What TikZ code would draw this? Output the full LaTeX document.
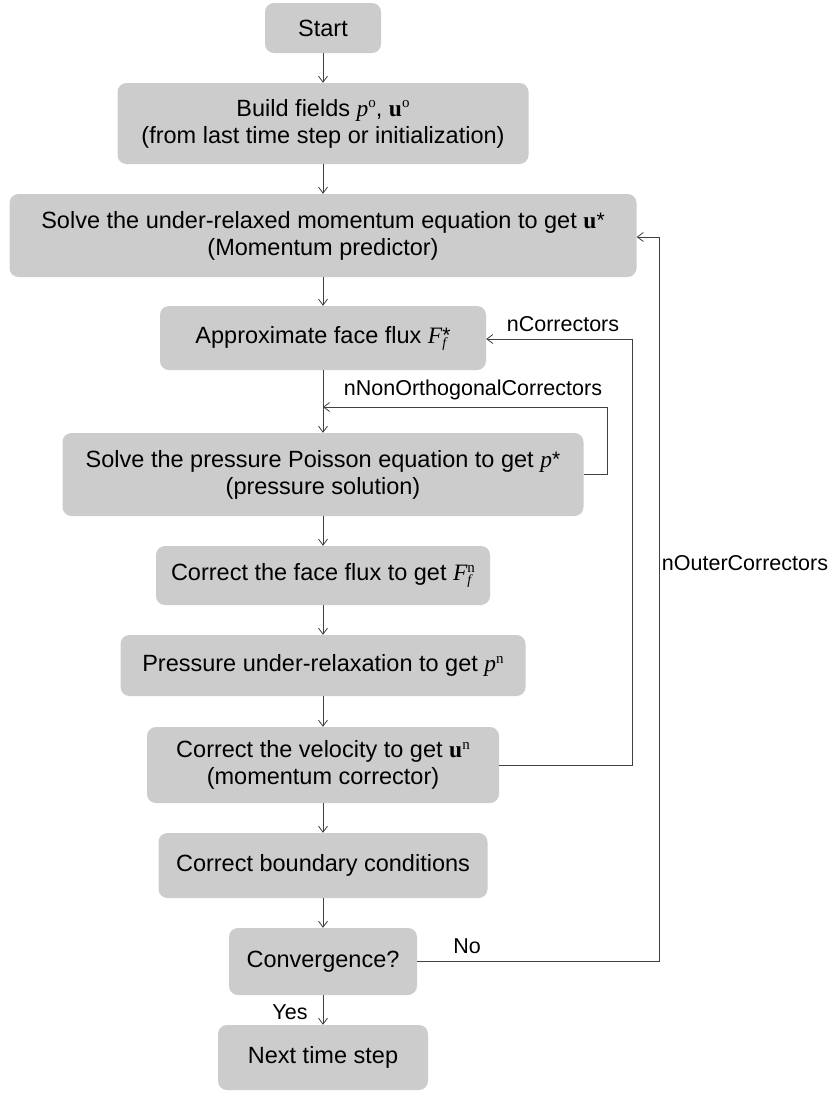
\documentclass[tikz,border=0pt]{standalone}
\usepackage{fontspec}
\setmainfont{Liberation Sans}
\newfontfamily\tms{Liberation Serif}
\usetikzlibrary{arrows.meta}
\definecolor{boxgray}{RGB}{204,204,204}
\definecolor{linegray}{RGB}{64,64,64}
\newcommand{\supo}[1]{\raisebox{8.5pt}{\fontsize{15}{15}\selectfont\tms #1}}
\newcommand{\supst}{\raisebox{1pt}{\fontsize{21}{21}\selectfont *}}
\newcommand{\subf}{\raisebox{-4pt}{\fontsize{14}{14}\selectfont\tms\itshape f}}
\newcommand{\mP}{{\tms\itshape p}}
\newcommand{\mU}{{\tms\bfseries u}}
\newcommand{\mF}{{\tms\itshape F}}
\begin{document}
\begin{tikzpicture}[x=1pt,y=-1pt,
  box/.style={draw=none, fill=boxgray, rounded corners=9pt, inner sep=0pt, align=center,
    font=\fontsize{23.5}{27}\selectfont, anchor=center},
  arr/.style={draw=linegray, line width=0.8pt, -{Straight Barb[length=6pt,width=9pt]}},
  lbl/.style={font=\fontsize{21.5}{24}\selectfont, inner sep=0pt, anchor=center}]
\useasboundingbox (0,0) rectangle (830,1093);
\fill[white] (0,0) rectangle (830,1093);
\node[box, minimum width=116pt, minimum height=50pt] (start) at (323,28) {Start};
\node[box, minimum width=411pt, minimum height=81pt] (build) at (323,123.5)
  {Build fields \mP\supo{o}, \mU\supo{o}\\(from last time step or initialization)};
\node[box, minimum width=627pt, minimum height=83pt] (mom) at (323,235.5)
  {Solve the under-relaxed momentum equation to get \mU\supst\\(Momentum predictor)};
\node[box, minimum width=326pt, minimum height=64pt] (flux) at (323,338)
  {Approximate face flux \mF\rlap{\subf}\supst};
\node[box, minimum width=521pt, minimum height=83pt] (poisson) at (323,474.5)
  {Solve the pressure Poisson equation to get \mP\supst\\(pressure solution)};
\node[box, minimum width=334pt, minimum height=59pt] (cflux) at (323,575.5)
  {Correct the face flux to get \mF\rlap{\subf}\supo{n}};
\node[box, minimum width=405pt, minimum height=61pt] (prelax) at (323,665.5)
  {Pressure under-relaxation to get \mP\supo{n}};
\node[box, minimum width=352pt, minimum height=76pt] (vel) at (323,765)
  {Correct the velocity to get \mU\supo{n}\\(momentum corrector)};
\node[box, minimum width=329pt, minimum height=65pt] (bc) at (323,865.5)
  {Correct boundary conditions};
\node[box, minimum width=188pt, minimum height=67pt] (conv) at (323,961.5)
  {Convergence?};
\node[box, minimum width=210pt, minimum height=65pt] (next) at (323,1057.5)
  {Next time step};
% main flow
\draw[arr] (start.south) -- (start.south |- build.north);
\draw[arr] (build.south) -- (build.south |- mom.north);
\draw[arr] (mom.south) -- (mom.south |- flux.north);
\draw[arr] (flux.south) -- (flux.south |- poisson.north);
\draw[arr] (poisson.south) -- (poisson.south |- cflux.north);
\draw[arr] (cflux.south) -- (cflux.south |- prelax.north);
\draw[arr] (prelax.south) -- (prelax.south |- vel.north);
\draw[arr] (vel.south) -- (vel.south |- bc.north);
\draw[arr] (bc.south) -- (bc.south |- conv.north);
\draw[arr] (conv.south) -- (conv.south |- next.north);
% loops
\coordinate (nnoc) at (607,407);
\draw[arr] (poisson.east) -- (poisson.east -| nnoc) -- (nnoc) -- (flux.south |- nnoc);
\coordinate (ncc) at (632,339);
\draw[arr] (vel.east) -- (vel.east -| ncc) -- (ncc) -- (flux.east |- ncc);
\coordinate (noc) at (659,237);
\draw[arr] (conv.east) -- (conv.east -| noc) -- (noc) -- (mom.east |- noc);
% labels
\node[lbl] (lnno) at (473,390) {nNonOrthogonalCorrectors};
\node[lbl] (lnc) at (563,324) {nCorrectors};
\node[lbl] (lno) at (745,563) {nOuterCorrectors};
\node[lbl] (lnoo) at (467,946) {No};
\node[lbl] (lyes) at (290,1012) {Yes};
\end{tikzpicture}
\end{document}
